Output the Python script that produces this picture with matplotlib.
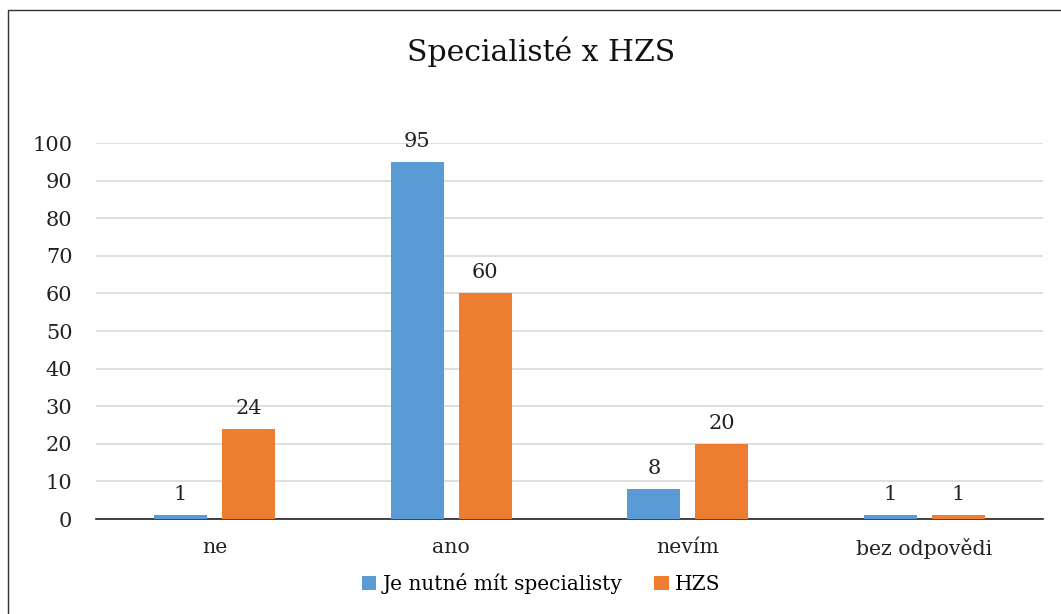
import matplotlib.pyplot as plt
import numpy as np
from matplotlib.patches import Rectangle

categories = ['ne', 'ano', 'nevím', 'bez odpovědi']
specialiste = [1, 95, 8, 1]
hzs = [24, 60, 20, 1]
series_names = ['Je nutné mít specialisty', 'HZS']

blue = '#5B9BD5'
orange = '#ED7D31'

plt.rcParams['font.family'] = ['DejaVu Serif']

fig = plt.figure(figsize=(10.61, 6.14), dpi=100)
ax = fig.add_axes([0.0905, 0.1547, 0.8925, 0.6124])

x = np.arange(len(categories))
w = 0.224
off = 0.1435
b1 = ax.bar(x - off, specialiste, w, color=blue, label=series_names[0], zorder=3)
b2 = ax.bar(x + off, hzs, w, color=orange, label=series_names[1], zorder=3)

for bars in (b1, b2):
    for rect in bars:
        h = rect.get_height()
        ax.annotate(f'{h:g}', (rect.get_x() + rect.get_width() / 2, h),
                    xytext=(0, 8), textcoords='offset points',
                    ha='center', va='bottom', fontsize=15, color='#222222')

ax.set_xlim(-0.5, 3.5)
ax.set_ylim(0, 100)
ax.set_yticks(range(0, 101, 10))
ax.set_xticks(x)
ax.set_xticklabels(categories, fontsize=14.7)
ax.yaxis.grid(True, color='#D9D9D9', linewidth=1.2, zorder=0)
ax.set_axisbelow(True)
for s in ['top', 'right', 'left']:
    ax.spines[s].set_visible(False)
ax.spines['bottom'].set_color('#222222')
ax.spines['bottom'].set_linewidth(1.2)
ax.tick_params(axis='both', length=0, colors='#222222')
ax.tick_params(axis='y', labelsize=15, pad=17)
ax.tick_params(axis='x', pad=14)

fig.text(0.51, 0.915, 'Specialisté x HZS', ha='center', va='center', fontsize=21.5, color='#111111')

fig.legend(loc='center', bbox_to_anchor=(0.51, 0.05), ncol=2, frameon=False,
           fontsize=14.5, handlelength=0.7, handleheight=0.7, handletextpad=0.3,
           columnspacing=1.6)

fig.patches.append(Rectangle((8 / 1061, -0.1), 1.2, 1.1 - 10 / 614,
                             transform=fig.transFigure, fill=False,
                             edgecolor='#333333', linewidth=1.0))

fig.savefig('out.png', dpi=100, facecolor='white')
